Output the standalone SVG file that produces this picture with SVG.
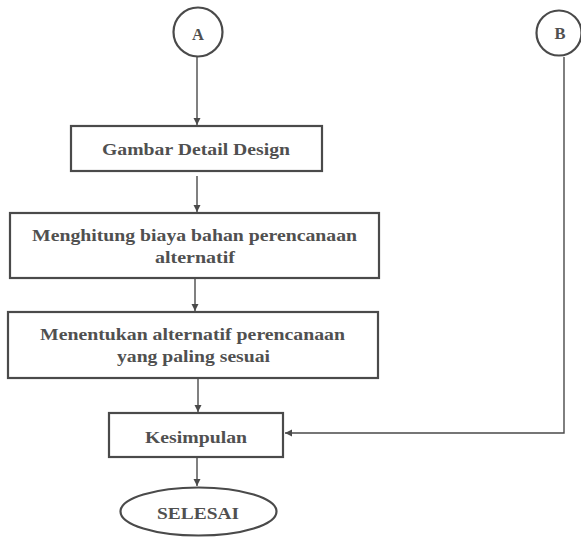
<svg xmlns="http://www.w3.org/2000/svg" width="581" height="537" viewBox="0 0 581 537">
<style>
.box{fill:#fff;stroke:#4a4a4a;stroke-width:2.2}
.ln{fill:none;stroke:#4a4a4a;stroke-width:1.4}
.t{font-family:"Liberation Serif","Times New Roman",serif;font-weight:bold;font-size:16.5px;fill:#505050;text-anchor:middle}
</style>
<defs>
<marker id="ah" markerWidth="8" markerHeight="8" refX="7" refY="4" orient="auto" markerUnits="userSpaceOnUse">
<path d="M0,0.5 L7,4 L0,7.5 Z" fill="#4a4a4a"/>
</marker>
</defs>
<rect width="581" height="537" fill="#fff"/>
<g id="connectors">
<line class="ln" x1="197" y1="57" x2="197" y2="125" marker-end="url(#ah)"/>
<line class="ln" x1="197" y1="176" x2="197" y2="212" marker-end="url(#ah)"/>
<line class="ln" x1="195" y1="279" x2="195" y2="311" marker-end="url(#ah)"/>
<line class="ln" x1="198" y1="379" x2="198" y2="412" marker-end="url(#ah)"/>
<line class="ln" x1="197" y1="458" x2="197" y2="486" marker-end="url(#ah)"/>
<polyline class="ln" points="564,57 564,433 285,433" marker-end="url(#ah)"/>
</g>
<g id="nodeA">
<circle class="box" cx="198" cy="32" r="24.5" stroke-width="2"/>
<text class="t" x="198" y="40" font-size="15.5">A</text>
</g>
<g id="nodeB">
<circle class="box" cx="559" cy="33" r="22.5" stroke-width="2"/>
<text class="t" x="560" y="39" font-size="15">B</text>
</g>
<g id="gambar">
<rect class="box" x="71" y="126" width="251" height="45"/>
<text class="t" x="196" y="155" textLength="188" lengthAdjust="spacingAndGlyphs">Gambar Detail Design</text>
</g>
<g id="menghitung">
<rect class="box" x="10" y="213" width="369" height="65"/>
<text class="t" x="194.5" y="241" textLength="325" lengthAdjust="spacingAndGlyphs">Menghitung biaya bahan perencanaan</text>
<text class="t" x="195" y="263" textLength="80" lengthAdjust="spacingAndGlyphs">alternatif</text>
</g>
<g id="menentukan">
<rect class="box" x="8" y="312" width="370" height="66"/>
<text class="t" x="192.5" y="340" textLength="305" lengthAdjust="spacingAndGlyphs">Menentukan alternatif perencanaan</text>
<text class="t" x="193.5" y="362" textLength="153" lengthAdjust="spacingAndGlyphs">yang paling sesuai</text>
</g>
<g id="kesimpulan">
<rect class="box" x="109" y="413" width="174" height="44"/>
<text class="t" x="196" y="443" textLength="102" lengthAdjust="spacingAndGlyphs">Kesimpulan</text>
</g>
<g id="selesai">
<ellipse class="box" cx="198.5" cy="511.5" rx="78" ry="24"/>
<text class="t" x="198" y="519" textLength="82" lengthAdjust="spacingAndGlyphs">SELESAI</text>
</g>
</svg>
